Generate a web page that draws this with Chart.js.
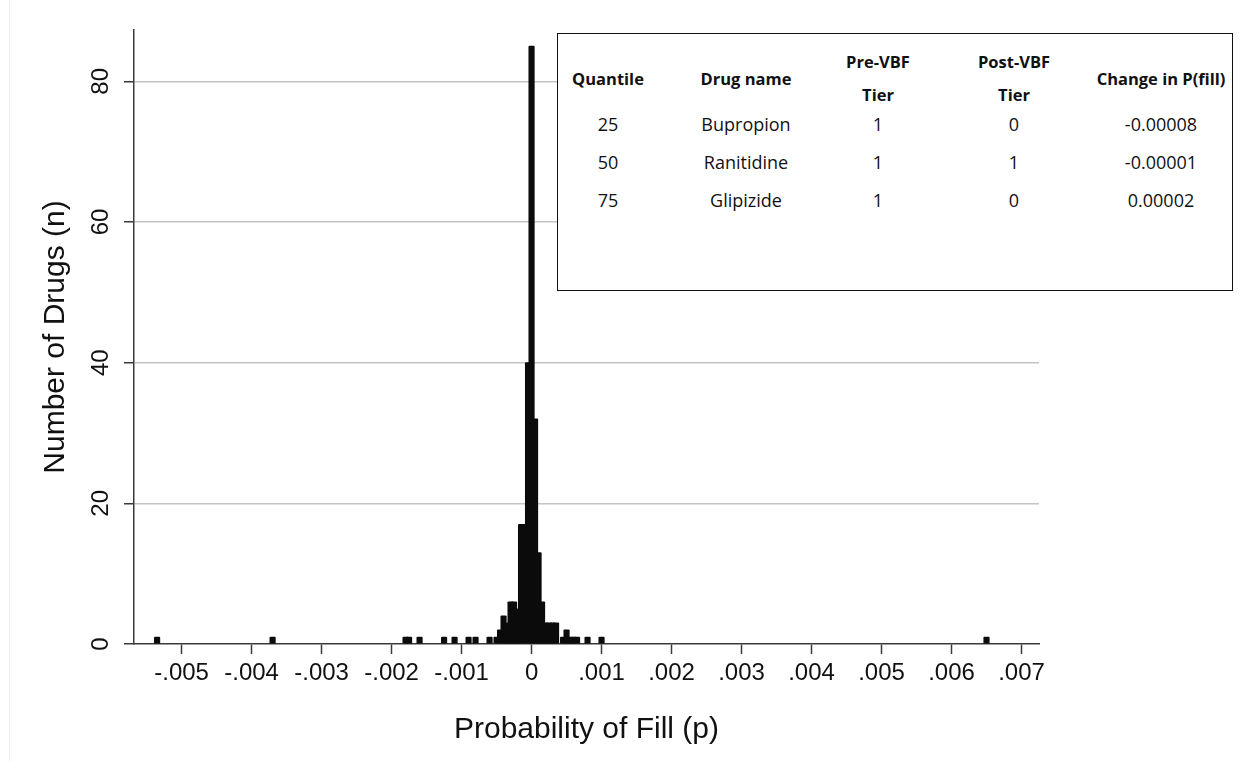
<!DOCTYPE html>
<html>
<head>
<meta charset="utf-8">
<script src="https://cdn.jsdelivr.net/npm/chart.js@4.4.1/dist/chart.umd.min.js"></script>
<style>
  html, body { margin: 0; padding: 0; background: #fff; }
  #wrap { position: relative; width: 1242px; height: 761px; overflow: hidden; }
  #frame { position: absolute; left: 9px; top: 0; width: 1px; height: 761px; background: #eeeeee; }
  #tbl {
    position: absolute; left: 557px; top: 33px; width: 676px; height: 258px;
    box-sizing: border-box; border: 1.5px solid #111; background: #fff;
    font-family: 'Open Sans', sans-serif; font-size: 18px; color: #111;
  }
  .c { position: absolute; transform: translate(-50%, -50%); white-space: nowrap; text-align: center; }
  .h { font-weight: bold; font-size: 16.5px; line-height: 33px; }
</style>
</head>
<body>
<div id="wrap">
  <div id="frame"></div>
  <canvas id="chart" width="1242" height="761"></canvas>
  <div id="tbl"></div>
</div>
<script>
// histogram bins (centre of bin, width .00005) and number of drugs in each
const binCenters = [
  -0.00535, -0.0037, -0.0018, -0.00175, -0.0016, -0.00125, -0.0011, -0.0009, -0.0008, -0.0006,
  -0.0005, -0.00045, -0.0004, -0.00035, -0.0003, -0.00025, -0.0002, -0.00015, -0.0001, -0.00005,
  0, 0.00005, 0.0001, 0.00015, 0.0002, 0.00025, 0.0003, 0.00035, 0.00045, 0.0005,
  0.00055, 0.0006, 0.00065, 0.0008, 0.001, 0.0065
];
const drugCounts = [
  1, 1, 1, 1, 1, 1, 1, 1, 1, 1,
  1, 2, 4, 3, 6, 6, 5, 17, 17, 40,
  85, 32, 13, 6, 3, 3, 3, 3, 1, 2,
  1, 1, 1, 1, 1, 1
];

const xTickValues = [-0.005, -0.004, -0.003, -0.002, -0.001, 0, 0.001, 0.002, 0.003, 0.004, 0.005, 0.006, 0.007];
const xTickLabels = ['-.005', '-.004', '-.003', '-.002', '-.001', '0', '.001', '.002', '.003', '.004', '.005', '.006', '.007'];
const yTickValues = [0, 20, 40, 60, 80];

// inset table
const tableHeaders = ['Quantile', 'Drug name', 'Pre-VBF<br>Tier', 'Post-VBF<br>Tier', 'Change in P(fill)'];
const quantiles = ['25', '50', '75'];
const drugNames = ['Bupropion', 'Ranitidine', 'Glipizide'];
const preTiers = ['1', '1', '1'];
const postTiers = ['0', '1', '0'];
const fillChanges = ['-0.00008', '-0.00001', '0.00002'];

const colX = [50, 188, 320, 456, 603];
const headY = 44;
const rowY = [90, 128, 166];

const tbl = document.getElementById('tbl');
function cell(text, x, y, cls) {
  const d = document.createElement('div');
  d.className = 'c' + (cls ? ' ' + cls : '');
  d.style.left = x + 'px';
  d.style.top = y + 'px';
  d.innerHTML = text;
  tbl.appendChild(d);
}
tableHeaders.forEach((h, i) => cell(h, colX[i], headY, 'h'));
quantiles.forEach((q, r) => {
  [q, drugNames[r], preTiers[r], postTiers[r], fillChanges[r]].forEach((v, i) => cell(v, colX[i], rowY[r]));
});

const AXIS = '#3a3a3a';
const tickFont = { family: "'Liberation Sans', Arial, sans-serif", size: 24 };
const titleFont = { family: "'Liberation Sans', Arial, sans-serif", size: 30 };

new Chart(document.getElementById('chart'), {
  type: 'bar',
  data: {
    datasets: [{
      data: binCenters.map((x, i) => ({ x: x, y: drugCounts[i] })),
      backgroundColor: '#0b0b0b',
      borderWidth: 0,
      borderRadius: 1,
      barThickness: 5.5
    }]
  },
  options: {
    responsive: false,
    animation: false,
    layout: { padding: { top: 30, right: 203, left: 0, bottom: 0 } },
    plugins: { legend: { display: false }, tooltip: { enabled: false } },
    scales: {
      x: {
        type: 'linear',
        min: -0.00568,
        max: 0.00725,
        offset: false,
        afterBuildTicks: s => { s.ticks = xTickValues.map(v => ({ value: v })); },
        afterFit: s => { s.height = 117; },
        ticks: {
          callback: (v, i) => xTickLabels[i],
          font: tickFont, color: '#111', padding: 5, maxRotation: 0, autoSkip: false
        },
        grid: { drawOnChartArea: false, offset: false, tickLength: 10, tickColor: AXIS, tickWidth: 1.5 },
        border: { color: AXIS, width: 1.5 },
        title: { display: true, text: 'Probability of Fill (p)', font: titleFont, color: '#111', padding: { top: 0, bottom: 13 } }
      },
      y: {
        min: 0,
        max: 87.3,
        afterBuildTicks: s => { s.ticks = yTickValues.map(v => ({ value: v })); },
        afterFit: s => { s.width = 134; },
        ticks: { font: tickFont, color: '#111', padding: 9, minRotation: 90, maxRotation: 90, crossAlign: 'center' },
        grid: {
          color: ctx => (ctx.tick && ctx.tick.value === 0) ? 'rgba(0,0,0,0)' : '#c4c4c4',
          lineWidth: 1.5, tickLength: 10, tickColor: AXIS, tickWidth: 1.5
        },
        border: { color: AXIS, width: 1.5 },
        title: { display: true, text: 'Number of Drugs (n)', font: titleFont, color: '#111', padding: { top: 38, bottom: 0 } }
      }
    }
  }
});
</script>
</body>
</html>
